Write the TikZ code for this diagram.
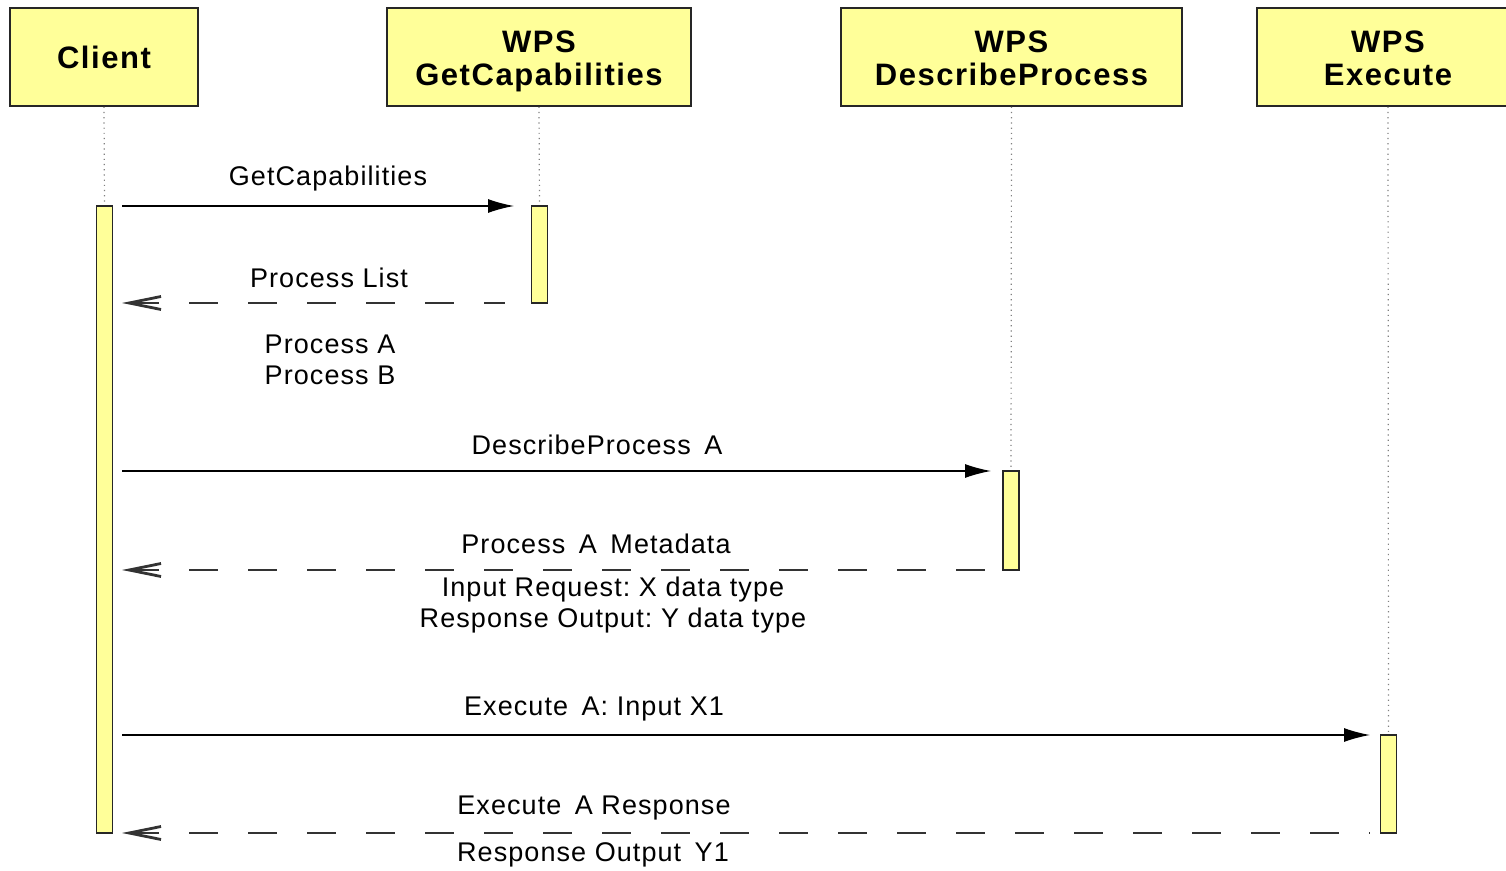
\documentclass[tikz,border=0pt]{standalone}
\usepackage{fontspec}
\setmainfont{Liberation Sans}
\usetikzlibrary{arrows.meta}
\definecolor{lifeyellow}{HTML}{FFFF99}
\frenchspacing
\newcommand{\headtop}{\rule{0pt}{16.5pt}}

\begin{document}
\begin{tikzpicture}[x=0.5pt, y=-0.5pt,
  head/.style={draw=black!85, fill=lifeyellow, line width=0.8pt, align=center,
    inner sep=0pt, minimum height=49pt,
    font=\bfseries\fontsize{15.5}{16.5}\selectfont\addfontfeature{LetterSpace=5}},
  bar/.style={draw=black!85, fill=lifeyellow, line width=0.8pt, inner sep=0pt, minimum width=8pt},
  life/.style={draw=black!50, dotted, line width=0.6pt},
  call/.style={-{Latex[length=13pt,width=7pt]}, line width=0.7pt},
  reply/.style={{Straight Barb[length=16pt,width=6.5pt,line width=1.4pt]}-, line width=0.7pt,
    dash pattern=on 14.5pt off 15pt, draw=black!80},
  msg/.style={font=\fontsize{13.5}{15.5}\selectfont\addfontfeature{LetterSpace=4},
    align=center, inner sep=0pt}]
  \useasboundingbox (0,0) rectangle (1506,871);

  % objects
  \node[head, minimum width=94pt] (client) at (104,57) {\headtop Client\strut};
  \node[head, minimum width=152pt] (getcap) at (539,57) {\headtop WPS\\GetCapabilities\strut};
  \node[head, minimum width=170.5pt] (descr) at (1011.5,57) {\headtop WPS\\DescribeProcess\strut};
  \node[head, minimum width=131pt] (exec) at (1388,57) {\headtop WPS\\Execute\strut};

  % activation bars
  \node[bar, minimum height=313.5pt] (cbar) at (104.5,519.5) {};
  \node[bar, minimum height=48.5pt] (gbar) at (539.5,254.5) {};
  \node[bar, minimum height=49.5pt] (dbar) at (1011,520.5) {};
  \node[bar, minimum height=49pt] (ebar) at (1388.5,784) {};

  % lifelines
  \draw[life] (client.south) -- (cbar.north);
  \draw[life] (getcap.south) -- (gbar.north);
  \draw[life] (descr.south) -- (dbar.north);
  \draw[life] (exec.south) -- (ebar.north);

  % message ends
  \coordinate (gc0) at (122,206);  \coordinate (gc1) at (514,206);
  \coordinate (pl0) at (122,303);  \coordinate (pl1) at (505,303);
  \coordinate (dp0) at (122,471);  \coordinate (dp1) at (991,471);
  \coordinate (md0) at (122,570);  \coordinate (md1) at (993,570);
  \coordinate (ex0) at (122,735);  \coordinate (ex1) at (1370,735);
  \coordinate (rs0) at (122,833);  \coordinate (rs1) at (1370,833);

  % messages
  \draw[call] (gc0) -- (gc1);
  \draw[reply] (pl0) -- (pl1);
  \draw[call] (dp0) -- (dp1);
  \draw[reply] (md0) -- (md1);
  \draw[call] (ex0) -- (ex1);
  \draw[reply] (rs0) -- (rs1);

  % labels
  \node[msg] (gclab) at (328,179) {GetCapabilities};
  \node[msg] (pllab) at (329,278) {Process List};
  \node[msg] (plist) at (330,359.5) {Process A\\Process B};
  \node[msg] (dplab) at (597,445) {DescribeProcess\enspace A};
  \node[msg] (mdlab) at (596,544) {Process\enspace A\enspace Metadata};
  \node[msg] (mdtxt) at (613,605) {Input Request: X data type\\Response Output: Y data type};
  \node[msg] (exlab) at (594,709) {Execute\enspace A: Input X1};
  \node[msg] (rslab) at (594,808) {Execute\enspace A Response};
  \node[msg] (rstxt) at (593,855) {Response Output\enspace Y1};
\end{tikzpicture}
\end{document}
